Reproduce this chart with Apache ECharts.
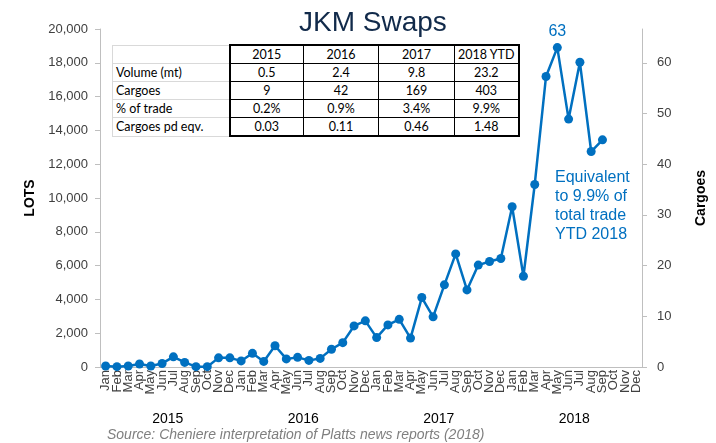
<!DOCTYPE html>
<html>
<head>
<meta charset="utf-8">
<title>JKM Swaps</title>
<script src="https://cdn.jsdelivr.net/npm/echarts@6/dist/echarts.min.js"></script>
<style>
  html, body { margin: 0; padding: 0; background: #fff; }
  #chart { position: absolute; left: 0; top: 0; width: 716px; height: 443px; }
  #tbl { position: absolute; left: 112px; top: 44px; border-collapse: collapse; table-layout: fixed;
    font-family: Lato, 'Liberation Sans', sans-serif; font-size: 12.5px; color: #000; background: #fff; }
  #tbl td { height: 17px; padding: 0; border: 1px solid #000; text-align: center; line-height: 17px; white-space: nowrap; }
  #tbl td.lbl { text-align: left; padding-left: 3px; border: 1px solid #d9d9d9; border-right: 2px solid #000; }
  #tbl tr:first-child td { border-top: 2px solid #000; }
  #tbl tr:first-child td.lbl { border-top: 1px solid #d9d9d9; }
  #tbl tr:last-child td { border-bottom: 2px solid #000; }
  #tbl tr:last-child td.lbl { border-bottom: 1px solid #d9d9d9; }
  #tbl td:last-child { border-right: 2px solid #000; }
</style>
</head>
<body>
<div id="chart"></div>
<table id="tbl"></table>
<script>
// data
const months = ['Jan', 'Feb', 'Mar', 'Apr', 'May', 'Jun', 'Jul', 'Aug', 'Sep', 'Oct', 'Nov', 'Dec']
const years = ['2015', '2016', '2017', '2018']
// cargoes per month (right axis), Jan 2015 .. Dec 2018
const cargoes = [
  0.2, 0.07, 0.2, 0.6, 0.2, 0.7, 2.0, 0.9, 0.07, 0.07, 1.8, 1.8,
  1.2, 2.7, 1.1, 4.2, 1.6, 1.9, 1.3, 1.7, 3.5, 4.8, 8.1, 9.1,
  5.8, 8.3, 9.4, 5.7, 13.7, 9.9, 16.2, 22.3, 15.2, 20.1, 20.8, 21.4,
  31.6, 17.9, 36.0, 57.3, 63, 48.9, 60.1, 42.5, 44.8, null, null, null
]
const lotsPerCargo = 300
const lotsMax = 20000

// summary table
const tableCols = ['2015', '2016', '2017', '2018 YTD']
const volumeMt = ['0.5', '2.4', '9.8', '23.2']
const cargoesYear = ['9', '42', '169', '403']
const pctTrade = ['0.2%', '0.9%', '3.4%', '9.9%']
const cargoesPd = ['0.03', '0.11', '0.46', '1.48']

const tableRows = [
  ['', tableCols],
  ['Volume (mt)', volumeMt],
  ['Cargoes', cargoesYear],
  ['% of trade', pctTrade],
  ['Cargoes pd eqv.', cargoesPd]
]
const colWidths = [117, 74, 75, 76, 64]
let html = '<colgroup>' + colWidths.map(w => '<col style="width:' + w + 'px">').join('') + '</colgroup>'
tableRows.forEach(r => {
  html += '<tr><td class="lbl">' + r[0] + '</td>' + r[1].map(v => '<td>' + v + '</td>').join('') + '</tr>'
})
document.getElementById('tbl').innerHTML = html

const monthAxis = []
years.forEach(() => months.forEach(m => monthAxis.push(m)))

let peakIdx = 0
cargoes.forEach((v, i) => { if (v != null && v > cargoes[peakIdx]) peakIdx = i })

const blue = '#0070c0'
const axisGrey = '#bfbfbf'
const font = 'Liberation Sans, Arial, sans-serif'

const chart = echarts.init(document.getElementById('chart'))
chart.setOption({
  animation: false,
  title: {
    text: 'JKM Swaps',
    left: 294,
    top: 4,
    textStyle: { fontFamily: font, fontSize: 28, fontWeight: 'normal', color: '#112a4a' }
  },
  grid: { left: 100, right: 71, top: 29, bottom: 76 },
  xAxis: [{
    type: 'category',
    data: monthAxis,
    position: 'bottom',
    boundaryGap: true,
    axisLine: { lineStyle: { color: axisGrey, width: 1 } },
    axisTick: { interval: 0, length: 33, lineStyle: { color: '#d9d9d9' } },
    axisLabel: { interval: 0, rotate: 90, margin: 3, fontFamily: font, fontSize: 13, color: '#404040' }
  }, {
    type: 'category',
    data: years,
    position: 'bottom',
    boundaryGap: true,
    axisLine: { show: false },
    axisTick: { interval: 0, length: 67, lineStyle: { color: axisGrey } },
    axisLabel: { interval: 0, margin: 45, fontFamily: font, fontSize: 14, color: '#000' }
  }],
  yAxis: [{
    type: 'value',
    position: 'left',
    min: 0,
    max: lotsMax,
    interval: 2000,
    name: 'LOTS',
    nameLocation: 'middle',
    nameGap: 62,
    nameTextStyle: { fontFamily: font, fontSize: 14, fontWeight: 'bold', color: '#000' },
    axisLine: { show: true, lineStyle: { color: axisGrey } },
    axisTick: { show: true, length: 5, lineStyle: { color: axisGrey } },
    axisLabel: {
      margin: 12, fontFamily: font, fontSize: 13, color: '#404040',
      formatter: v => v.toLocaleString('en-US')
    },
    splitLine: { show: false }
  }, {
    type: 'value',
    position: 'right',
    min: 0,
    max: lotsMax / lotsPerCargo,
    interval: 10,
    name: 'Cargoes',
    nameLocation: 'middle',
    nameRotate: 90,
    nameGap: 52,
    nameTextStyle: { fontFamily: font, fontSize: 14, fontWeight: 'bold', color: '#000' },
    axisLine: { show: true, lineStyle: { color: axisGrey } },
    axisTick: { show: true, length: 5, lineStyle: { color: axisGrey } },
    axisLabel: {
      margin: 15, fontFamily: font, fontSize: 13, color: '#404040',
      showMaxLabel: false,
      formatter: v => (v % 10 === 0 ? String(v) : '')
    },
    splitLine: { show: false }
  }],
  series: [{
    type: 'line',
    xAxisIndex: 0,
    yAxisIndex: 1,
    data: cargoes,
    color: blue,
    lineStyle: { color: blue, width: 2.5 },
    itemStyle: { color: blue },
    symbol: 'circle',
    symbolSize: 9,
    showAllSymbol: true,
    label: {
      show: true,
      position: 'top',
      distance: 3,
      fontFamily: font,
      fontSize: 16,
      color: blue,
      formatter: p => (p.dataIndex === peakIdx ? String(Math.round(p.value)) : '')
    }
  }],
  graphic: [{
    type: 'text',
    left: 555,
    top: 168,
    style: {
      text: 'Equivalent\nto 9.9% of\ntotal trade\nYTD 2018',
      fontFamily: font,
      fontSize: 16,
      lineHeight: 19,
      fill: blue,
      align: 'center'
    }
  }, {
    type: 'text',
    left: 107,
    top: 428,
    style: {
      text: 'Source: Cheniere interpretation of Platts news reports (2018)',
      fontFamily: font,
      fontSize: 14,
      fontStyle: 'italic',
      fill: '#7f7f7f'
    }
  }]
})
</script>
</body>
</html>
